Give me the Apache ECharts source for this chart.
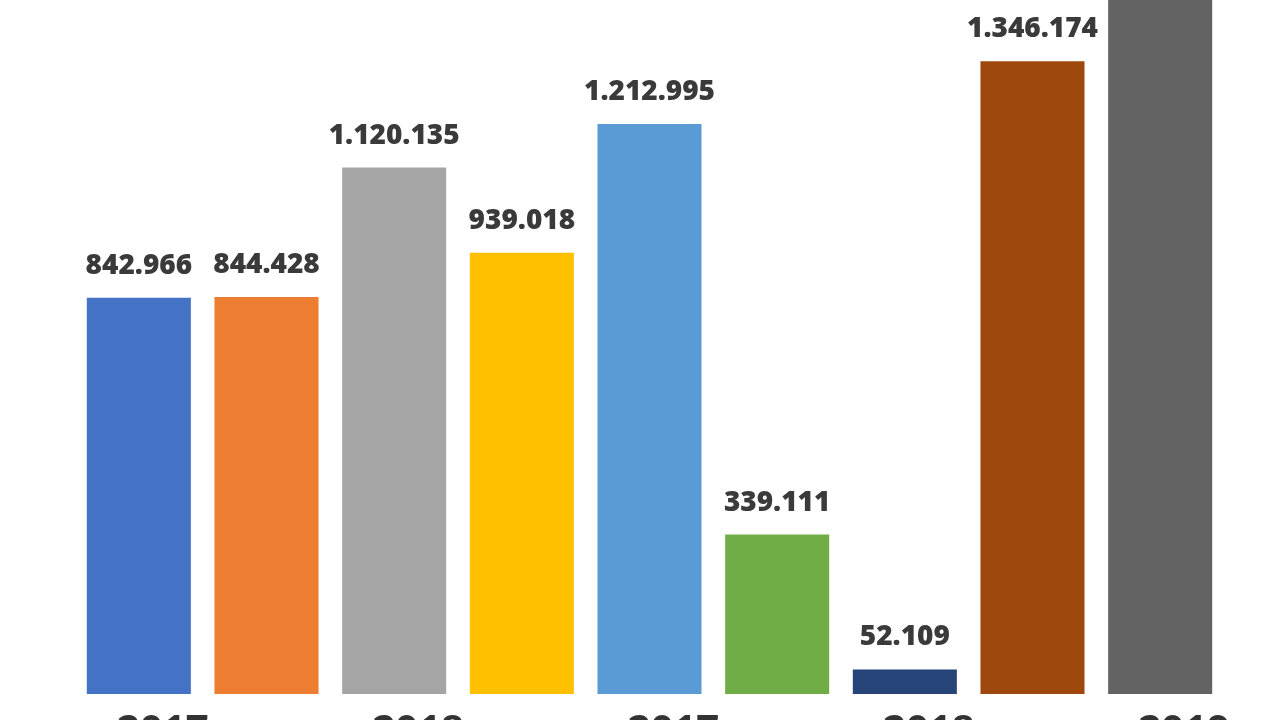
<!DOCTYPE html>
<html>
<head>
<meta charset="utf-8">
<script src="https://cdn.jsdelivr.net/npm/echarts@6/dist/echarts.min.js"></script>
<style>html,body{margin:0;padding:0;background:#fff;}#c{width:1280px;height:720px;}</style>
</head>
<body>
<div id="c"></div>
<script>
const categories = ['2017', '2017', '2018', '2018', '2017', '2017', '2018', '2018', '2019'];
const values = [842966, 844428, 1120135, 939018, 1212995, 339111, 52109, 1346174, 1560000];
const colors = ['#4472C4', '#ED7D31', '#A5A5A5', '#FFC000', '#5B9BD5', '#70AD47', '#264478', '#9E480E', '#636363'];

function fmt(v) {
  return String(v).replace(/\B(?=(\d{3})+(?!\d))/g, '.');
}

const chart = echarts.init(document.getElementById('c'));
chart.setOption({
  animation: false,
  grid: { left: 75, right: 56, top: -246, bottom: 26, containLabel: false, outerBoundsMode: 'none' },
  xAxis: {
    type: 'category',
    data: categories,
    axisLine: { show: false },
    axisTick: { show: false },
    axisLabel: {
      interval: 1,
      margin: 18,
      padding: [0, 0, 0, 48],
      fontSize: 40,
      fontWeight: 'bold',
      fontFamily: 'Open Sans',
      color: '#333333'
    }
  },
  yAxis: {
    type: 'value',
    min: 0,
    max: 2000000,
    show: false,
    splitLine: { show: false }
  },
  series: [{
    type: 'bar',
    data: values.map((v, i) => ({ value: v, itemStyle: { color: colors[i] } })),
    barCategoryGap: '18.5%',
    label: {
      show: true,
      position: 'top',
      distance: 18,
      formatter: p => fmt(p.value),
      fontSize: 28,
      fontWeight: 800,
      fontFamily: 'Open Sans',
      color: '#3a3a3a'
    }
  }]
});
</script>
</body>
</html>
